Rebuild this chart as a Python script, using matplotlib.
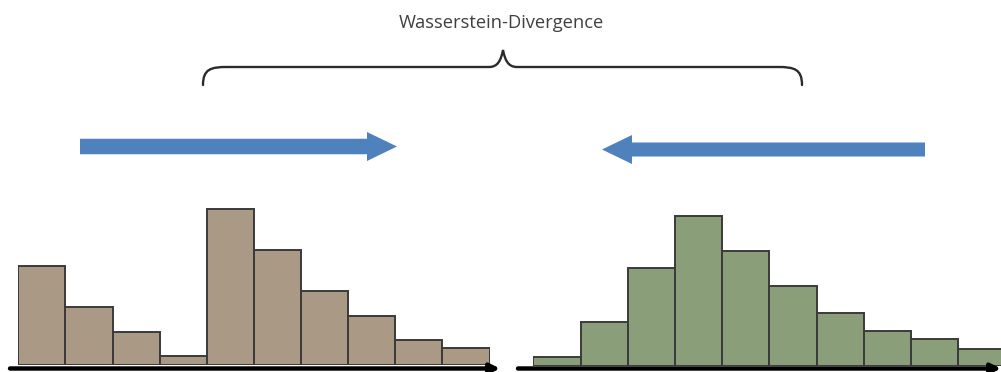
import matplotlib
matplotlib.use("Agg")
from matplotlib import pyplot as plt
from matplotlib.patches import FancyArrow, PathPatch
from matplotlib.path import Path
import numpy as np

# bar heights (px-like units)
left_counts = [99, 58, 33, 9, 156, 115, 74, 49, 25, 17]
right_counts = [9, 44, 98, 150, 115, 80, 53, 35, 27, 17]
title = "Wasserstein-Divergence"

W, H = 1001, 372
fig = plt.figure(figsize=(W / 100, H / 100), dpi=100)
fig.patch.set_facecolor("white")


def px_axes(x0, x1, y_base, y_top):
    # axes placed in pixel coordinates (y measured from top)
    return fig.add_axes([x0 / W, (H - y_base) / H, (x1 - x0) / W, (y_base - y_top) / H])


def histogram(ax, counts, color):
    idx = np.arange(len(counts))
    ax.bar(idx, counts, width=1.0, color=color, edgecolor="#3a3a3a", linewidth=1.4)
    ax.set_xlim(-0.5, len(counts) - 0.5)
    ax.set_ylim(0, 165)
    ax.axis("off")


ax_l = px_axes(18.3, 489.5, 365, 200)
histogram(ax_l, left_counts, "#a99985")
ax_r = px_axes(533.3, 1005.3, 366, 201)
histogram(ax_r, right_counts, "#8b9e7a")

# overlay for arrows, brace and title
ov = fig.add_axes([0, 0, 1, 1], zorder=5)
ov.set_xlim(0, W)
ov.set_ylim(H, 0)
ov.axis("off")
ov.patch.set_alpha(0)

# x axes with arrow heads
for x0, x1 in [(10, 500), (518, 1001)]:
    ov.annotate("", xy=(x1, 368.5), xytext=(x0, 368.5), annotation_clip=False,
                arrowprops=dict(arrowstyle="-|>", color="black", lw=3.2,
                                mutation_scale=14, shrinkA=0, shrinkB=0))

# blue arrows
blue = "#4f81bd"
ov.add_patch(FancyArrow(80, 146.5, 317, 0, width=15.5, head_width=29, head_length=30,
                        length_includes_head=True, color=blue, lw=0))
ov.add_patch(FancyArrow(925, 149.5, -323, 0, width=14, head_width=29, head_length=30,
                        length_includes_head=True, color=blue, lw=0))

# curly brace
tip_x, top_y, end_y = 503, 67, 85
xl, xr = 203, 802
verts = [(xl, end_y), (xl, top_y + 2), (xl + 8, top_y), (xl + 24, top_y),
         (tip_x - 14, top_y),
         (tip_x - 5, top_y), (tip_x - 2, 60), (tip_x, 50),
         (tip_x + 2, 60), (tip_x + 5, top_y), (tip_x + 14, top_y),
         (xr - 24, top_y),
         (xr - 8, top_y), (xr, top_y + 2), (xr, end_y)]
codes = [Path.MOVETO, Path.CURVE4, Path.CURVE4, Path.CURVE4,
         Path.LINETO,
         Path.CURVE4, Path.CURVE4, Path.CURVE4,
         Path.CURVE4, Path.CURVE4, Path.CURVE4,
         Path.LINETO,
         Path.CURVE4, Path.CURVE4, Path.CURVE4]
ov.add_patch(PathPatch(Path(verts, codes), fill=False, edgecolor="#2b2b2b", lw=1.7,
                       capstyle="round"))

ov.text(501, 23, title, ha="center", va="center", fontsize=13.2,
        family=["Open Sans", "DejaVu Sans"], color="#404040")

fig.savefig("out.png", dpi=100, facecolor="white")
